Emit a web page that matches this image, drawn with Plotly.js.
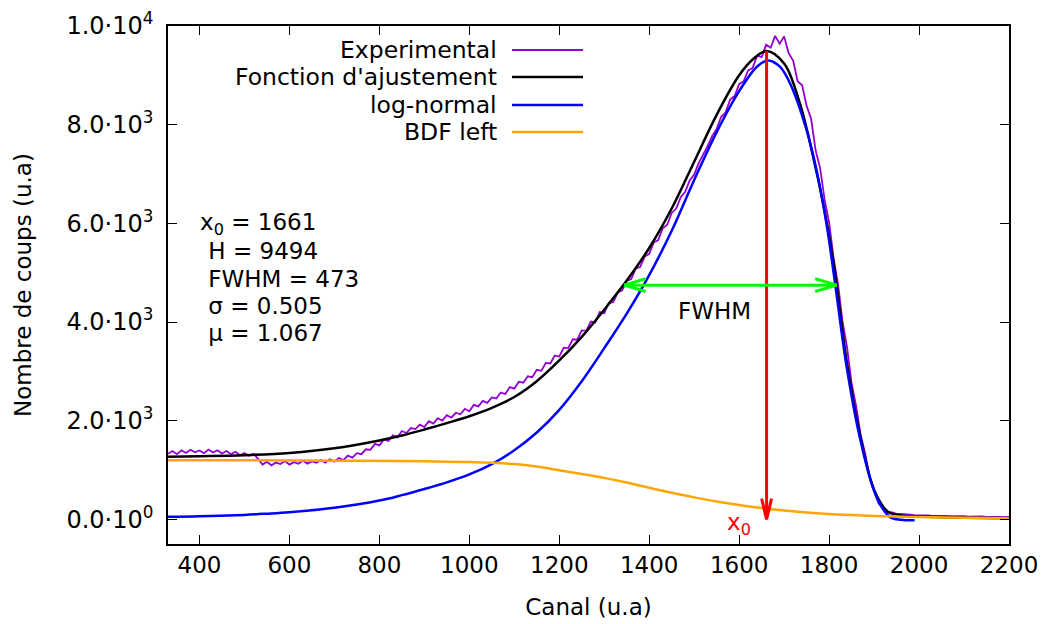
<!DOCTYPE html>
<html><head><meta charset="utf-8">
<script src="https://cdn.plot.ly/plotly-3.0.1.min.js"></script>
<style>html,body{margin:0;padding:0;background:#fff}#chart{width:1043px;height:624px}</style>
</head><body><div id="chart"></div>
<script>
// ---------- data ----------
const expStart = 330, expStep = 10;   // channel of first sample, channel step
const expCounts = [
 1330,1385,1320,1400,1345,1410,1360,1395,1340,1415,
 1355,1400,1335,1385,1320,1370,1300,1345,1290,1330,
 1230,1110,1165,1095,1150,1120,1180,1110,1160,1125,
 1190,1130,1175,1145,1200,1150,1215,1170,1240,1200,
 1290,1250,1340,1320,1420,1410,1530,1500,1620,1590,
 1700,1660,1790,1750,1850,1830,1920,1870,1990,1940,
 2050,2000,2110,2060,2160,2130,2240,2190,2320,2290,
 2400,2360,2470,2450,2570,2540,2680,2650,2790,2770,
 2900,2880,3030,3010,3170,3160,3320,3300,3480,3470,
 3650,3640,3830,3820,4010,3990,4200,4180,4390,4400,
 4600,4640,4830,4870,5080,5120,5330,5380,5610,5660,
 5900,5970,6210,6300,6530,6640,6870,6990,7220,7390,
 7570,7770,7910,8160,8250,8510,8580,8820,8880,9100,
 9150,9400,9370,9620,9560,9800,9640,9790,9450,9300,
 8880,8800,8380,8120,7480,7120,6480,6020,5300,4760,
 4000,3480,2760,2300,1720,1340,880,590,320,215,
 150,140,112,110,96,95,86,88,78,82,
 72,76,67,71,63,67,59,63,55,59,
 52,57,49,53,46,50,44,47
];
const fitX = [330,400,500,600,700,800,850,900,950,1000,1050,1100,1150,1200,1250,1300,1350,1400,1450,1500,1550,1600,1630,1661,1700,1735,1765,1790,1810,1840,1870,1900,1930,1960,2000,2100,2200];
const fitY = [1270,1280,1300,1345,1440,1600,1700,1820,1950,2090,2260,2480,2800,3220,3700,4250,4840,5500,6300,7250,8200,9000,9320,9494,9240,8430,7330,6250,5190,3150,1650,600,160,80,55,32,20];
const lnX = [330,400,500,550,600,700,800,850,900,950,1000,1050,1100,1150,1200,1250,1300,1350,1400,1450,1500,1550,1600,1640,1664,1690,1713,1750,1772,1794,1813,1839,1868,1905,1935,1960,1990];
const lnY = [50,60,90,115,145,235,380,490,615,750,910,1120,1400,1760,2220,2800,3470,4170,4950,5850,6880,7850,8680,9180,9300,9180,8840,7890,7080,6000,4800,3090,1670,460,50,-10,-20];
const bdfX = [330,500,700,900,1000,1100,1150,1200,1250,1300,1350,1400,1450,1500,1550,1600,1650,1700,1750,1800,1850,1900,1950,2000,2100,2200];
const bdfY = [1200,1198,1190,1175,1160,1120,1070,995,920,840,745,640,540,445,360,290,228,178,138,108,86,70,56,46,32,22];

const xTickVals = [400,600,800,1000,1200,1400,1600,1800,2000,2200];
const yTickVals = [0,2000,4000,6000,8000,10000];
const yTickText = ['0.0·10<sup>0</sup>','2.0·10<sup>3</sup>','4.0·10<sup>3</sup>','6.0·10<sup>3</sup>','8.0·10<sup>3</sup>','1.0·10<sup>4</sup>'];
const seriesNames = ['Experimental',"Fonction d'ajustement",'log-normal','BDF left'];
const seriesColors = ['#9400d3','#000000','#0000ff','#ffa500'];
const seriesWidths = [1.8,2.5,2.5,2.5];

const peakX0 = 1661, peakH = 9494, fwhmLo = 1344, fwhmHi = 1817;
const paramLines = ['x<sub>0</sub> = 1661',' H = 9494',' FWHM = 473',' σ = 0.505',' μ = 1.067'];

// ---------- layout helpers ----------
const W = 1043, Hh = 624, M = {l:168, r:34, t:26, b:80};
const pw = W - M.l - M.r, ph = Hh - M.t - M.b;
const px2paperX = p => (p - M.l) / pw;
const px2paperY = p => (Hh - M.b - p) / ph;
const FONT = 'DejaVu Sans';
const FS = 23;

const traces = [
  {x0: expStart, dx: expStep, y: expCounts, type:'scatter', mode:'lines',
   line:{color:seriesColors[0], width:seriesWidths[0]}, name:seriesNames[0]},
  {x: fitX, y: fitY, type:'scatter', mode:'lines', line:{color:seriesColors[1], width:seriesWidths[1], shape:'spline', smoothing:1}, name:seriesNames[1]},
  {x: lnX, y: lnY, type:'scatter', mode:'lines', line:{color:seriesColors[2], width:seriesWidths[2], shape:'spline', smoothing:1}, name:seriesNames[2]},
  {x: bdfX, y: bdfY, type:'scatter', mode:'lines', line:{color:seriesColors[3], width:seriesWidths[3], shape:'spline', smoothing:1}, name:seriesNames[3]}
];

const shapes = [];
const annotations = [];

// manual legend (text right-aligned, sample line on the right)
const legRows = [50, 77, 105, 132];
seriesNames.forEach((n, i) => {
  annotations.push({xref:'paper', yref:'paper', x:px2paperX(499), y:px2paperY(legRows[i]),
    xanchor:'right', yanchor:'middle', text:n, showarrow:false, font:{family:FONT, size:23.5, color:'#000'}});
  shapes.push({type:'line', xref:'paper', yref:'paper', x0:px2paperX(512), x1:px2paperX(583),
    y0:px2paperY(legRows[i]), y1:px2paperY(legRows[i]), line:{color:seriesColors[i], width:seriesWidths[i]}});
});

// parameter text block
const paramRows = [224, 251, 279, 306, 333];
paramLines.forEach((t, i) => {
  annotations.push({xref:'paper', yref:'paper', x:px2paperX(i === 0 ? 198 : 199), y:px2paperY(paramRows[i]),
    xanchor:'left', yanchor:'middle', text:t.replace(/^ /, '&nbsp;'), showarrow:false, font:{family:FONT, size:FS, color:'#000'}});
});

// red arrow x0 (from H down to 0)
const redHeadDx = 11, redHeadDy = 420;
shapes.push({type:'line', xref:'x', yref:'y', x0:peakX0, x1:peakX0, y0:peakH, y1:0, line:{color:'#ff0000', width:3}});
shapes.push({type:'line', xref:'x', yref:'y', x0:peakX0 - redHeadDx, x1:peakX0, y0:redHeadDy, y1:0, line:{color:'#ff0000', width:3}});
shapes.push({type:'line', xref:'x', yref:'y', x0:peakX0 + redHeadDx, x1:peakX0, y0:redHeadDy, y1:0, line:{color:'#ff0000', width:3}});
annotations.push({xref:'x', yref:'y', x:1568, y:-90, xanchor:'left', yanchor:'middle', text:'x<sub>0</sub>', showarrow:false,
  font:{family:FONT, size:FS, color:'#ff0000'}});

// green FWHM double arrow
const halfH = peakH / 2, gHeadDx = 48, gHeadDy = 130;
shapes.push({type:'line', xref:'x', yref:'y', x0:fwhmLo, x1:fwhmHi, y0:halfH, y1:halfH, line:{color:'#00ff00', width:3}});
[[fwhmLo, 1], [fwhmHi, -1]].forEach(([xe, s]) => {
  shapes.push({type:'line', xref:'x', yref:'y', x0:xe, x1:xe + s*gHeadDx, y0:halfH, y1:halfH + gHeadDy, line:{color:'#00ff00', width:3}});
  shapes.push({type:'line', xref:'x', yref:'y', x0:xe, x1:xe + s*gHeadDx, y0:halfH, y1:halfH - gHeadDy, line:{color:'#00ff00', width:3}});
});
annotations.push({xref:'x', yref:'y', x:(fwhmLo + fwhmHi)/2 - 36, y:4230, xanchor:'center', yanchor:'middle', text:'FWHM', showarrow:false,
  font:{family:FONT, size:FS, color:'#000'}});

const axisCommon = {showline:true, linecolor:'#000', linewidth:1.5, mirror:'ticks', ticks:'inside', ticklen:9,
  tickwidth:1.2, tickcolor:'#000', showgrid:false, zeroline:false};

const layout = {
  width:W, height:Hh, margin:M, paper_bgcolor:'#fff', plot_bgcolor:'#fff', showlegend:false,
  font:{family:FONT, size:FS, color:'#000'},
  xaxis: Object.assign({}, axisCommon, {range:[330,2200], tickmode:'array', tickvals:xTickVals, ticktext:xTickVals.map(String),
    tickfont:{family:FONT, size:FS, color:'#000'},
    title:{text:'Canal (u.a)', font:{family:FONT, size:FS, color:'#000'}, standoff:22}, automargin:false}),
  yaxis: Object.assign({}, axisCommon, {range:[-500,10000], tickmode:'array', tickvals:yTickVals, ticktext:yTickText,
    tickfont:{family:FONT, size:24, color:'#000'}, ticklabelstandoff:8,
    title:{text:'Nombre de coups (u.a)', font:{family:FONT, size:FS, color:'#000'}, standoff:28}, automargin:false}),
  shapes, annotations
};

Plotly.newPlot('chart', traces, layout, {displayModeBar:false});
</script>
</body></html>
